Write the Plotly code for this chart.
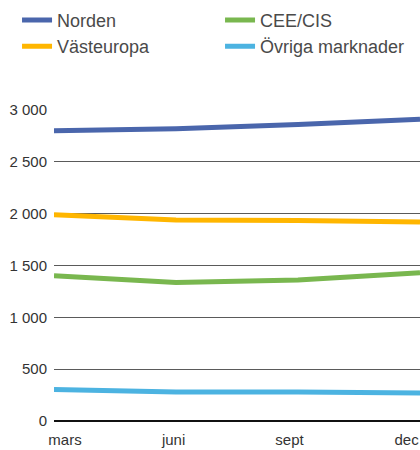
import plotly.graph_objects as go

# Quarterly values per market region
quarters = ["mars", "juni", "sept", "dec"]
norden = [2800, 2820, 2860, 2910]
vasteuropa = [1990, 1940, 1935, 1920]
cee_cis = [1400, 1335, 1360, 1430]
ovriga = [305, 280, 280, 270]
y_ticks = [0, 500, 1000, 1500, 2000, 2500, 3000]

series = [
    ("Norden", norden, "#4a66ac", 1),
    ("Västeuropa", vasteuropa, "#ffb600", 3),
    ("CEE/CIS", cee_cis, "#79b74f", 2),
    ("Övriga marknader", ovriga, "#4cb3e1", 4),
]

x_pos = list(range(len(quarters)))
# month labels sit slightly offset from the data points
label_pos = [0.09, 0.98, 1.93, 2.89]

fig = go.Figure()
for name, vals, color, rank in series:
    fig.add_trace(go.Scatter(
        x=x_pos, y=vals, name=name, mode="lines",
        line=dict(color=color, width=5),
        legendrank=rank,
    ))

font_family = "Liberation Sans, Arial, sans-serif"

fig.update_layout(
    width=420, height=450,
    margin=dict(l=54, r=0, t=110, b=29, autoexpand=False),
    paper_bgcolor="white", plot_bgcolor="white",
    separators=", ",
    font=dict(family=font_family, color="#333333", size=14),
    showlegend=True,
    legend=dict(
        orientation="h", x=-0.101, xanchor="left",
        y=1.348, yanchor="top",
        entrywidth=158, entrywidthmode="pixels",
        font=dict(size=18, color="#4a4a4a"),
        tracegroupgap=0, bgcolor="rgba(0,0,0,0)",
    ),
    xaxis=dict(
        range=[0, 3], tickmode="array", tickvals=label_pos, ticktext=quarters,
        showgrid=False, zeroline=False, showline=False, ticks="",
        ticklabeloverflow="allow", ticklabelstandoff=8,
        tickfont=dict(size=15, color="#333333"),
        fixedrange=True,
    ),
    yaxis=dict(
        range=[0, 3000], tickmode="array", tickvals=y_ticks, tickformat=",d",
        showgrid=True, gridcolor="#5a5a5a", gridwidth=1,
        zeroline=True, zerolinecolor="#111111", zerolinewidth=1.5,
        showline=False, ticks="", ticklabelstandoff=6,
        tickfont=dict(size=15, color="#333333"),
        fixedrange=True,
    ),
)

fig.write_html("out.html")
